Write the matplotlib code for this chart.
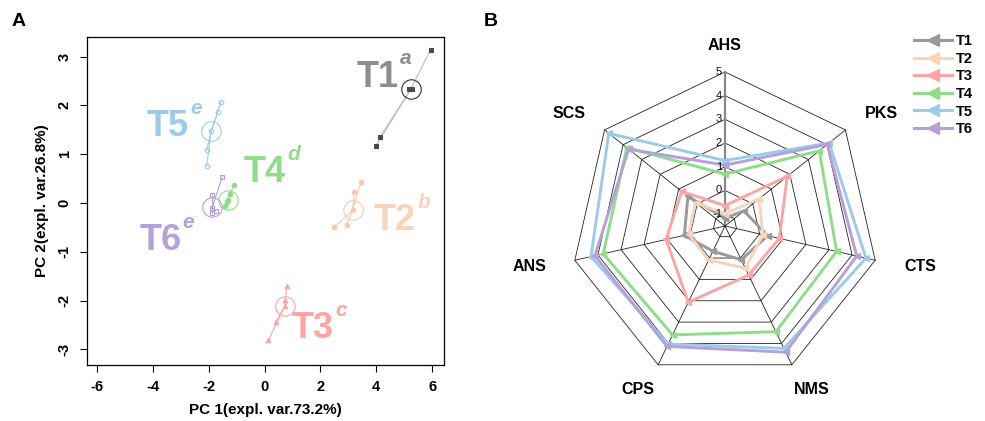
import numpy as np
import matplotlib
matplotlib.use("Agg")
import matplotlib.pyplot as plt
from matplotlib.lines import Line2D

plt.rcParams['font.family'] = ['Liberation Sans', 'DejaVu Sans']

# ---------------- Panel A data (PCA scores) ----------------
groups = ['T1', 'T2', 'T3', 'T4', 'T5', 'T6']
letters = ['a', 'b', 'c', 'd', 'e', 'e']

T1_pc1 = [5.94, 5.16, 5.27, 4.13, 3.99]
T1_pc2 = [3.14, 2.33, 2.33, 1.35, 1.17]
T2_pc1 = [3.45, 3.21, 3.15, 2.94, 2.50]
T2_pc2 = [0.43, 0.22, -0.14, -0.45, -0.50]
T3_pc1 = [0.79, 0.73, 0.73, 0.40, 0.14]
T3_pc2 = [-1.70, -1.98, -2.11, -2.44, -2.81]
T4_pc1 = [-1.09, -1.23, -1.32, -1.41, -1.34]
T4_pc2 = [0.36, 0.18, 0.06, -0.06, 0.02]
T5_pc1 = [-1.56, -1.67, -1.91, -2.07, -2.07]
T5_pc2 = [2.07, 1.86, 1.47, 1.08, 0.76]
T6_pc1 = [-1.51, -1.87, -1.89, -1.74, -1.87]
T6_pc2 = [0.53, 0.17, -0.11, -0.17, -0.21]

centroid_pc1 = [5.23, 3.15, 0.73, -1.32, -1.91, -1.87]
centroid_pc2 = [2.33, -0.14, -2.11, 0.07, 1.47, -0.09]

label_pc1 = [4.03, 4.67, 1.73, 0.02, -3.45, -3.73]
label_pc2 = [2.58, -0.36, -2.58, 0.63, 1.57, -0.77]

pc1_ticks = [-6, -4, -2, 0, 2, 4, 6]
pc2_ticks = [-3, -2, -1, 0, 1, 2, 3]

# ---------------- Panel B data (radar) ----------------
radar_axes = ['AHS', 'PKS', 'CTS', 'NMS', 'CPS', 'ANS', 'SCS']  # clockwise from top
radar_T1 = [-1.17, -0.48, 0.35, 0.08, -0.32, 0.26, 0.50]
radar_T2 = [-0.98, 0.34, 0.14, 0.48, 0.09, 0.07, 0.09]
radar_T3 = [-0.64, 1.86, 0.85, 0.80, 2.07, 1.05, 0.84]
radar_T4 = [0.69, 3.59, 3.33, 3.45, 3.60, 3.77, 3.80]
radar_T5 = [1.26, 4.12, 4.60, 4.23, 4.03, 4.30, 4.77]
radar_T6 = [1.07, 4.02, 4.20, 4.41, 4.14, 4.13, 3.70]
radar_ticks = [-1, 0, 1, 2, 3, 4, 5]
radar_min = -1.5

# ---------------- styles ----------------
colors = ['#8e8e8e', '#f8d4bd', '#fda4a4', '#8fdc8a', '#9ccbea', '#b5a0d8']
point_colors = ['#4a4a4a', '#f8c9ad', '#fda4a4', '#8fdc8a', '#9ccbea', '#b5a0d8']
line_colors = ['#bdbdbd', '#f8c9ad', '#fda4a4', '#8fdc8a', '#9ccbea', '#b5a0d8']
circle_colors = ['#333333', '#f8c9ad', '#fda4a4', '#8fdc8a', '#9ccbea', '#b5a0d8']
markers = ['s', 'o', '^', 'o', 'o', 's']
filled = [True, True, True, True, False, False]

W, H = 985, 421
fig = plt.figure(figsize=(W / 100, H / 100), dpi=100)

# ---------------- Panel A ----------------
ax = fig.add_axes([87 / W, (H - 365) / H, (444 - 87) / W, (365 - 37) / H])
pcs = [(T1_pc1, T1_pc2), (T2_pc1, T2_pc2), (T3_pc1, T3_pc2),
       (T4_pc1, T4_pc2), (T5_pc1, T5_pc2), (T6_pc1, T6_pc2)]
for i, (xs, ys) in enumerate(pcs):
    cx, cy = centroid_pc1[i], centroid_pc2[i]
    for x, y in zip(xs, ys):
        ax.plot([cx, x], [cy, y], color=line_colors[i], lw=0.8, zorder=1)
    ax.plot(xs, ys, linestyle='none', marker=markers[i], ms=3.3,
            mfc=point_colors[i] if filled[i] else 'none',
            mec=point_colors[i], mew=0.8, zorder=3)
    ax.plot([cx], [cy], marker='o', ms=14, mfc='none', mec=circle_colors[i],
            mew=0.8, zorder=2)
    ax.text(label_pc1[i], label_pc2[i], groups[i], color=colors[i],
            fontsize=26, fontweight='bold', ha='center', va='center')
    ax.annotate(letters[i], xy=(label_pc1[i], label_pc2[i]),
                xytext=(16, 13), textcoords='offset points', color=colors[i],
                fontsize=15, fontweight='bold', style='italic',
                ha='left', va='center')

ax.set_xlim(-6.35, 6.42)
ax.set_ylim(-3.32, 3.4)
ax.set_xticks(pc1_ticks)
ax.set_yticks(pc2_ticks)
ax.set_xticklabels([str(v) for v in pc1_ticks], fontweight='bold', fontsize=10.5)
ax.set_yticklabels([str(v) for v in pc2_ticks], fontweight='bold', fontsize=10.5,
                   rotation=90, va='center')
ax.tick_params(direction='out', length=5, width=0.8, pad=6)
for s in ax.spines.values():
    s.set_linewidth(0.9)
ax.set_xlabel('PC 1(expl. var.73.2%)', fontweight='bold', fontsize=11, labelpad=6)
ax.set_ylabel('PC 2(expl. var.26.8%)', fontweight='bold', fontsize=11, labelpad=6)

fig.text(12 / W, 1 - 22 / H, 'A', fontsize=14, fontweight='bold', va='center')
fig.text(484 / W, 1 - 22 / H, 'B', fontsize=14, fontweight='bold', va='center')

# ---------------- Panel B (radar) ----------------
unit = 23.7  # px per value unit
cxp, cyp = 725, 226
left_px, right_px, top_px, bot_px = 505, 945, 15, 415
ax2 = fig.add_axes([left_px / W, (H - bot_px) / H, (right_px - left_px) / W, (bot_px - top_px) / H])
ax2.set_xlim((left_px - cxp) / unit, (right_px - cxp) / unit)
ax2.set_ylim((cyp - bot_px) / unit, (cyp - top_px) / unit)
ax2.axis('off')

n = len(radar_axes)
angles = np.pi / 2 - 2 * np.pi * np.arange(n) / n
rmax = radar_ticks[-1] - radar_min

# rings
for lv in radar_ticks:
    r = lv - radar_min
    xs = np.append(r * np.cos(angles), r * np.cos(angles[0]))
    ys = np.append(r * np.sin(angles), r * np.sin(angles[0]))
    ax2.plot(xs, ys, color='#222222', lw=0.6, zorder=1)
# spokes
for k, a in enumerate(angles):
    ax2.plot([0, rmax * np.cos(a)], [0, rmax * np.sin(a)],
             color='#888888' if k == 0 else '#222222',
             lw=1.6 if k == 0 else 0.6, zorder=1)
# tick labels
for lv in radar_ticks:
    ax2.text(-0.12, lv - radar_min, str(lv), fontsize=8, ha='right', va='center',
             color='#111111', zorder=5)
# axis labels
rx, ry = 200 / unit, 181 / unit
for k, a in enumerate(angles):
    ax2.text(rx * np.cos(a), ry * np.sin(a), radar_axes[k], fontsize=11.5,
             fontweight='bold', ha='center', va='center')

radar_series = [radar_T1, radar_T2, radar_T3, radar_T4, radar_T5, radar_T6]
handles = []
for i, vals in enumerate(radar_series):
    r = np.array(vals) - radar_min
    xs = np.append(r * np.cos(angles), r[0] * np.cos(angles[0]))
    ys = np.append(r * np.sin(angles), r[0] * np.sin(angles[0]))
    ax2.plot(xs, ys, color=colors[i] if i else '#999999', lw=2.1, marker='<',
             ms=4.5, zorder=3 + i * 0.1)
    handles.append(Line2D([0], [0], color=colors[i] if i else '#999999', lw=2.2,
                          marker='<', ms=8))

fig.legend(handles, groups, loc='upper left', bbox_to_anchor=(914 / W, 1 - 34 / H),
           frameon=False, handlelength=2.6, labelspacing=0.25, handletextpad=0.3,
           prop={'weight': 'bold', 'size': 10.5}, borderaxespad=0, borderpad=0)

fig.savefig('out.png', dpi=100)
